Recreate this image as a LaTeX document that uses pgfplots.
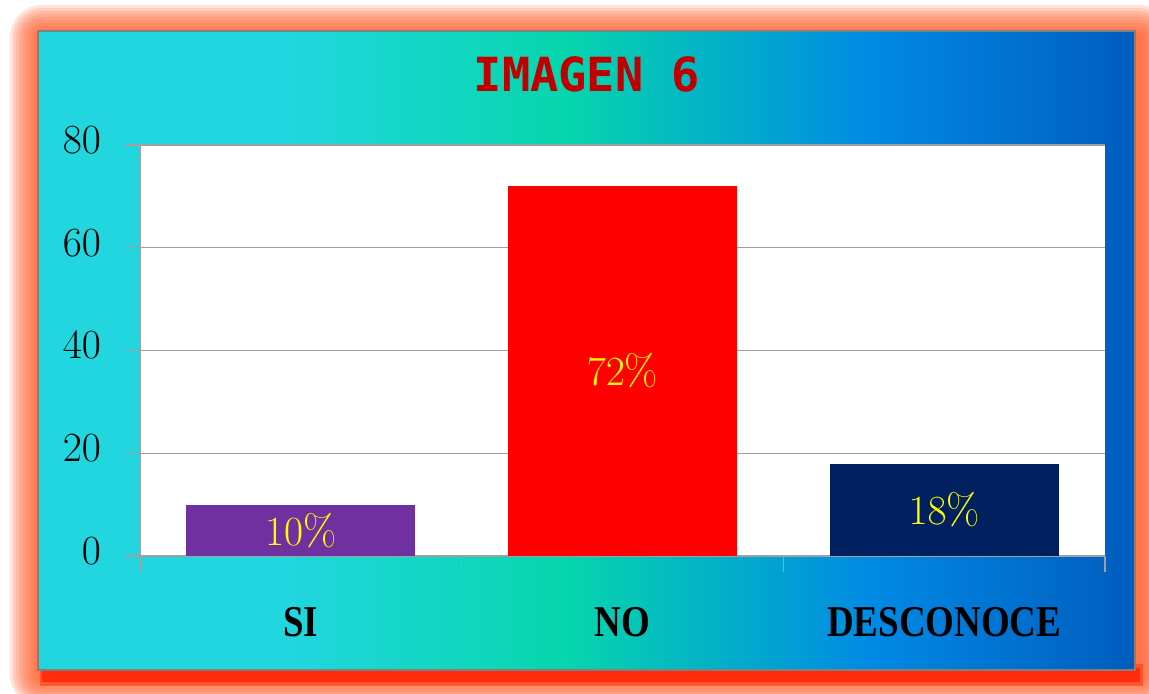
\documentclass[border=0pt]{standalone}
\usepackage{fontspec}
\usepackage{pgfplots}
\pgfplotsset{compat=1.18}

\newfontfamily\catfont{Liberation Serif}[FakeStretch=0.84]
\newfontfamily\titlefont{DejaVu Sans Mono}

\definecolor{cyanbg}{RGB}{34,214,224}
\definecolor{greenbg}{RGB}{6,214,172}
\definecolor{bluebg}{RGB}{0,138,228}
\definecolor{darkbg}{RGB}{0,92,190}
\definecolor{glow}{RGB}{255,95,45}
\definecolor{glowdark}{RGB}{255,45,10}
\definecolor{barpurple}{RGB}{112,48,160}
\definecolor{barred}{RGB}{255,0,0}
\definecolor{barnavy}{RGB}{0,32,96}
\definecolor{titlered}{RGB}{192,0,0}
\definecolor{gridgray}{RGB}{160,160,160}
\definecolor{labelyellow}{RGB}{255,255,0}

% path box is mapped onto 25bp..75bp
\pgfdeclarehorizontalshading{panelshade}{100bp}{color(0bp)=(cyanbg); color(36bp)=(cyanbg);
  color(49bp)=(greenbg); color(63bp)=(bluebg); color(75bp)=(darkbg); color(100bp)=(darkbg)}

\begin{document}
\begin{tikzpicture}[x=0.5pt,y=0.5pt]
\useasboundingbox (0,0) rectangle (1149,694);

% orange glow round the panel
\foreach \r in {32,29,...,2}{
  \fill[glow,opacity=0.17,rounded corners=\r*0.5pt]
    (38-\r+4,24-\r-5) rectangle (1135+\r+4,663+\r-6);
}
\fill[glowdark,opacity=0.5] (40,8) rectangle (1143,30);
\fill[glowdark] (42,12) rectangle (1140,26);

% panel
\shade[shading=panelshade] (38,24) rectangle (1135,663);
\draw[gray,line width=0.8pt] (38,24) rectangle (1135,663);

\node[font=\titlefont\bfseries\fontsize{23.5}{23.5}\selectfont,text=titlered] at (587,620) {IMAGEN 6};

\begin{axis}[
    at={(70pt,69pt)}, anchor=south west,
    scale only axis,
    width=482.5pt, height=205.5pt,
    xmin=-0.5, xmax=2.5,
    ymin=0, ymax=80,
    axis background/.style={fill=white},
    axis x line*=bottom, axis y line*=left,
    axis line style={draw=gridgray,line width=0.7pt,-},
    ytick={0,20,...,80},
    ymajorgrids,
    major grid style={gridgray,line width=0.7pt},
    xtick={0,1,2},
    xticklabels={SI,NO,DESCONOCE},
    minor xtick={-0.5,0.5,1.5,2.5},
    major x tick style={draw=none},
    minor x tick style={draw=gridgray,line width=0.7pt},
    ytick style={draw=gridgray,line width=0.7pt},
    tick align=outside,
    major tick length=7pt,
    minor tick length=8pt,
    xtick pos=bottom, ytick pos=left,
    yticklabel style={font=\fontsize{20}{20}\selectfont, text=black, xshift=-9pt, yshift=2.5pt},
    xticklabel style={font=\catfont\bfseries\fontsize{22}{22}\selectfont, text=black, yshift=-15pt},
    ybar, bar shift=0pt, bar width=114.5pt,
    visualization depends on={y \as \rawy},
    nodes near coords={\pgfmathprintnumber{\pgfplotspointmeta}\%},
    every node near coord/.append style={font=\fontsize{21.5}{21.5}\selectfont, text=labelyellow,
        anchor=center, shift={(axis direction cs:0,-\rawy/2)}},
]
\addplot[fill=barpurple, draw=none] coordinates {(0,10)};
\addplot[fill=barred, draw=none] coordinates {(1,72)};
\addplot[fill=barnavy, draw=none] coordinates {(2,18)};
\end{axis}
\end{tikzpicture}
\end{document}
